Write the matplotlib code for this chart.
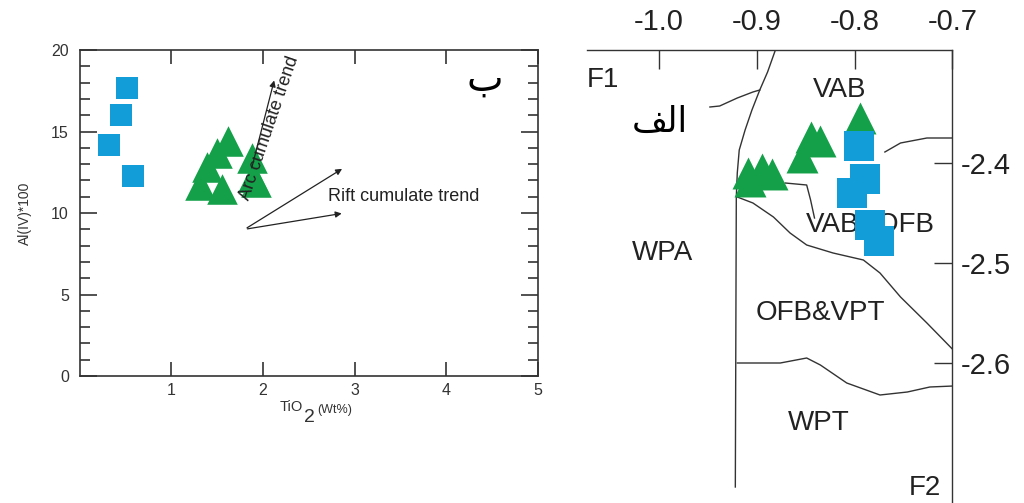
import matplotlib
matplotlib.use('Agg')
import matplotlib.pyplot as plt
from matplotlib.ticker import MultipleLocator

plt.rcParams['font.family'] = ['Liberation Sans', 'DejaVu Sans']

# left panel data (TiO2 vs Al(IV)*100)
sq_tio2  = [0.51, 0.45, 0.32, 0.58]
sq_al    = [17.7, 16.0, 14.2, 12.3]
tri_tio2 = [1.62, 1.50, 1.39, 1.31, 1.55, 1.88, 1.89, 1.92]
tri_al   = [14.4, 13.7, 12.8, 11.7, 11.5, 13.4, 12.2, 11.9]

# right panel data (F1 vs F2)
sq_f1  = [-0.795, -0.789, -0.803, -0.784, -0.775]
sq_f2  = [-2.383, -2.416, -2.430, -2.462, -2.478]
tri_f1 = [-0.909, -0.895, -0.884, -0.907, -0.845, -0.835, -0.854, -0.794]
tri_f2 = [-2.410, -2.406, -2.411, -2.418, -2.374, -2.378, -2.394, -2.355]

# field boundaries (F1, F2)
bounds = [
  ([-0.881, -0.889, -0.897, -0.905, -0.912, -0.918, -0.920, -0.921, -0.922],
   [-2.287, -2.309, -2.327, -2.347, -2.367, -2.387, -2.410, -2.434, -2.724]),
  ([-0.948, -0.938, -0.920, -0.904, -0.897],
   [-2.344, -2.343, -2.335, -2.329, -2.327]),
  ([-0.871, -0.849, -0.845, -0.841],
   [-2.420, -2.422, -2.437, -2.455]),
  ([-0.920, -0.904, -0.883, -0.866, -0.849, -0.822, -0.791, -0.774, -0.753, -0.726, -0.699],
   [-2.434, -2.440, -2.454, -2.470, -2.482, -2.490, -2.497, -2.510, -2.534, -2.560, -2.587]),
  ([-0.920, -0.876, -0.849, -0.835, -0.808, -0.774, -0.746, -0.723, -0.699],
   [-2.600, -2.600, -2.595, -2.602, -2.620, -2.632, -2.629, -2.624, -2.623]),
  ([-0.769, -0.753, -0.726, -0.700],
   [-2.389, -2.380, -2.375, -2.375]),
]

blue  = '#129dd8'
green = '#13a049'
dark  = '#333333'

fig = plt.figure(figsize=(10.24, 5.03), dpi=100)

# ---- left panel
ax = fig.add_axes([0.078, 0.2525, 0.447, 0.648])
ax.set_xlim(0, 5)
ax.set_ylim(0, 20)
ax.scatter(sq_tio2, sq_al, marker='s', s=16**2, color=blue, linewidths=0, zorder=3)
ax.scatter(tri_tio2, tri_al, marker='^', s=22**2, color=green, linewidths=0, zorder=3)

ax.set_xticks([1, 2, 3, 4, 5])
ax.set_yticks([0, 5, 10, 15, 20])
ax.yaxis.set_minor_locator(MultipleLocator(1))
ax.tick_params(axis='both', which='major', direction='in', top=True, right=True,
               labelsize=11.5, colors=dark, width=1.2)
ax.tick_params(axis='y', which='major', length=12, pad=8)
ax.tick_params(axis='y', which='minor', direction='in', right=True, length=7, width=1.2, color=dark)
ax.tick_params(axis='x', which='major', length=10, pad=5)
for s in ax.spines.values():
  s.set_linewidth(1.2)
  s.set_color(dark)

ax.set_ylabel('Al(IV)*100', fontsize=10, color=dark, labelpad=14)
# TiO2(Wt%) label, built from three pieces like the original
fig.text(0.273, 0.191, 'TiO', fontsize=10.5, color=dark, ha='left', va='center')
fig.text(0.297, 0.170, '2', fontsize=14, color=dark, ha='left', va='center')
fig.text(0.310, 0.184, '(Wt%)', fontsize=9, color=dark, ha='left', va='center')

ax.annotate('', xy=(2.13, 18.3), xytext=(1.87, 12.6),
            arrowprops=dict(arrowstyle='-|>', color='#222222', lw=0.9, mutation_scale=9))
ax.annotate('', xy=(2.89, 12.8), xytext=(1.80, 9.0),
            arrowprops=dict(arrowstyle='-|>', color='#222222', lw=0.9, mutation_scale=9))
ax.annotate('', xy=(2.89, 10.0), xytext=(1.80, 9.0),
            arrowprops=dict(arrowstyle='-|>', color='#222222', lw=0.9, mutation_scale=9))
ax.text(2.07, 15.2, 'Arc cumulate trend', rotation=71, fontsize=13, color='#222222',
        ha='center', va='center', zorder=4)
ax.text(2.71, 11.0, 'Rift cumulate trend', fontsize=13, color='#222222',
        ha='left', va='center')
ax.text(4.42, 18.2, '\u0628', fontsize=28, color='black', ha='center', va='center',
        family=['DejaVu Sans'])

# ---- right panel
ax2 = fig.add_axes([0.573, 0.0, 0.357, 0.9006])
ax2.set_xlim(-1.074, -0.7)
ax2.set_ylim(-2.74, -2.287)
for bx, by in bounds:
  ax2.plot(bx, by, color=dark, lw=1.0, zorder=1)

texts = [
  ('F1', -1.057, -2.317),
  ('VAB', -0.815, -2.327),
  ('VAB&OFB', -0.784, -2.462),
  ('WPA', -0.997, -2.490),
  ('OFB&VPT', -0.835, -2.550),
  ('WPT', -0.837, -2.660),
  ('F2', -0.728, -2.725),
]
for t, x, y in texts:
  ax2.text(x, y, t, fontsize=20, color='#222222', ha='center', va='center', zorder=2)
# "الف" written in visual order with presentation forms
ax2.text(-0.999, -2.359, '\uFED2\uFEDF\uFE8D', fontsize=25, color='black',
         ha='center', va='center', family=['DejaVu Sans'])

ax2.scatter(tri_f1, tri_f2, marker='^', s=23**2, color=green, linewidths=0, zorder=3)
ax2.scatter(sq_f1, sq_f2, marker='s', s=21**2, color=blue, linewidths=0, zorder=4)

ax2.spines['left'].set_visible(False)
ax2.spines['bottom'].set_visible(False)
for s in ('top', 'right'):
  ax2.spines[s].set_linewidth(1.0)
  ax2.spines[s].set_color(dark)
ax2.xaxis.tick_top()
ax2.yaxis.tick_right()
ax2.set_xticks([-1.0, -0.9, -0.8, -0.7])
ax2.set_xticklabels(['-1.0', '-0.9', '-0.8', '-0.7'])
ax2.set_yticks([-2.4, -2.5, -2.6])
ax2.set_yticklabels(['-2.4', '-2.5', '-2.6'])
ax2.tick_params(axis='x', direction='in', length=14, width=1.0, color=dark,
                labelsize=21, pad=10, labelcolor='#222222')
ax2.tick_params(axis='y', direction='in', length=13, width=1.0, color=dark,
                labelsize=21, pad=6, labelcolor='#222222')

fig.savefig('out.png', dpi=100)
